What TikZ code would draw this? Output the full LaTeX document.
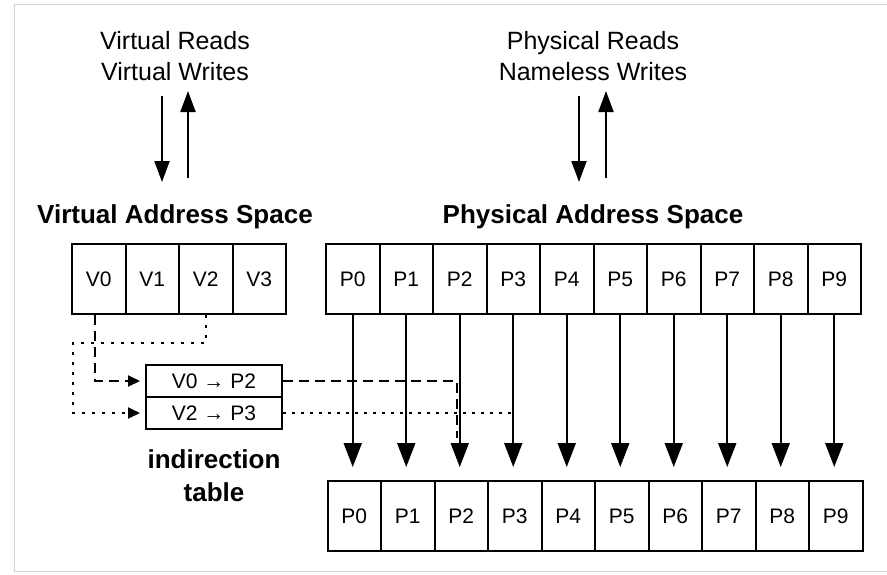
\documentclass[tikz,border=0pt]{standalone}
\usepackage{fontspec}
\setmainfont{Liberation Sans}
\usetikzlibrary{arrows.meta}

\begin{document}
\begin{tikzpicture}[x=1pt, y=-1pt, line width=2pt,
    cell/.style={draw, minimum width=53.5pt, minimum height=70pt, inner sep=0pt,
                 font=\fontsize{21}{25}\selectfont},
    entry/.style={draw, minimum width=136pt, minimum height=32pt, inner sep=0pt,
                  font=\fontsize{21}{25}\selectfont},
    hdr/.style={font=\fontsize{26}{33}\selectfont\bfseries, align=center},
    lbl/.style={font=\fontsize{25}{31}\selectfont, align=center},
    io/.style={-{Triangle[length=21pt, width=15pt]}},
    copyarrow/.style={-{Triangle[length=24pt, width=18pt]}, shorten >=13pt},
    maparrow/.style={-{Triangle[length=12pt, width=11pt]}, shorten >=5pt}
]
    \useasboundingbox (0,0) rectangle (887,574);
    % frame of the figure
    \draw[gray!35, line width=1pt] (887,4) -- (14,4) -- (14,571) -- (887,571);

    % Top labels
    \node[lbl] (vtxt) at (175,56) {Virtual Reads\\Virtual Writes};
    \node[lbl] (ptxt) at (593,56) {Physical Reads\\Nameless Writes};
    \node[hdr] (vhdr) at (175,217) {Virtual Address Space};
    \node[hdr] (phdr) at (593,217) {Physical Address Space};

    % Read / write arrows
    \coordinate (vr0) at (162,96);  \coordinate (vr1) at (162,182);
    \coordinate (vw0) at (188,178); \coordinate (vw1) at (188,91);
    \coordinate (pr0) at (579,96);  \coordinate (pr1) at (579,182);
    \coordinate (pw0) at (606,178); \coordinate (pw1) at (606,91);
    \draw[io] (vr0) -- (vr1);
    \draw[io] (vw0) -- (vw1);
    \draw[io] (pr0) -- (pr1);
    \draw[io] (pw0) -- (pw1);

    % Virtual address space
    \foreach \i in {0,...,3}
        \node[cell] (v\i) at (98.75+53.5*\i, 279) {V\i};

    % Physical address space (top and bottom)
    \foreach \i in {0,...,9} {
        \node[cell] (p\i) at (352.75+53.5*\i, 279) {P\i};
        \node[cell] (q\i) at (354.25+53.5*\i, 516) {P\i};
        \draw[copyarrow] (p\i.south) -- (p\i.south |- q\i.north);
    }

    % Indirection table
    \node[entry] (e0) at (214,381) {V0 → P2};
    \node[entry] (e1) at (214,413) {V2 → P3};
    \node[hdr] (itab) at (214,476) {indirection\\table};

    % Mapping paths
    \draw[maparrow, dash pattern=on 10pt off 6pt] ([xshift=-4pt]v0.south) |- (e0.west);
    \coordinate (vturn) at (73,343);
    \draw[maparrow, dash pattern=on 3pt off 7pt] (v2.south) |- (vturn) |- (e1.west);
    \coordinate (d2) at (457,438);
    \coordinate (d3) at (513,432);
    \draw[dash pattern=on 10pt off 6pt] (e0.east) -| (d2);
    \draw[dash pattern=on 3pt off 6pt] (e1.east) -| (d3);
\end{tikzpicture}
\end{document}
